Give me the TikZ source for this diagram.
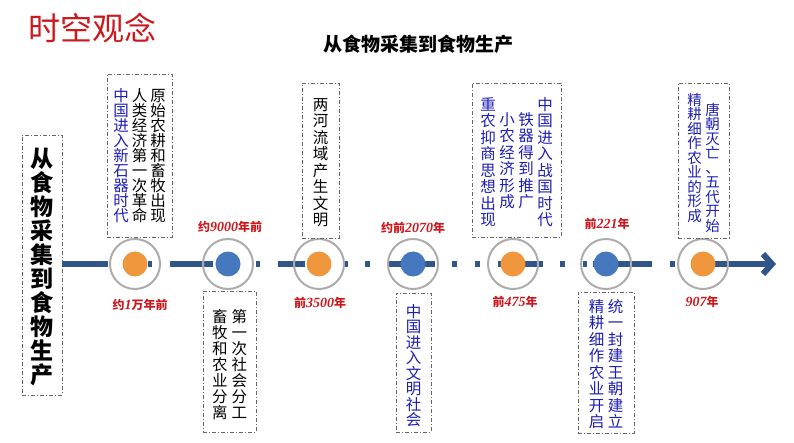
\documentclass[tikz,border=0pt]{standalone}
\usepackage{fontspec}
\setmainfont{Noto Sans CJK SC}
\newfontfamily\numf{Liberation Serif}
\usetikzlibrary{arrows.meta}
\definecolor{cblue}{RGB}{30,30,180}
\definecolor{cred}{RGB}{205,25,30}
\definecolor{bar}{RGB}{50,85,135}
\definecolor{dorange}{RGB}{240,150,60}
\definecolor{dblue}{RGB}{70,120,190}
\makeatletter
\newcommand\vcol[2][15pt]{\vtop{\baselineskip=#1\relax\lineskiplimit=-20pt\@tfor\ch:=#2\do{\hbox to \dimexpr#1+1.5pt\relax{\hss\ch\hss}}}}
\makeatother
\newcommand\yr[1]{{\numf\itshape\fontsize{14pt}{14pt}\selectfont #1}}
\tikzset{
 dbox/.style={draw=gray!80!black, line width=0.7pt, dash pattern=on 4pt off 2pt on 1pt off 2pt, anchor=north west, inner sep=0pt},
 txt/.style={anchor=north, inner sep=0pt, font=\fontsize{15.5pt}{16pt}\selectfont},
 seg/.style={bar, line width=6pt},
 ring/.style={circle, draw=gray!65, line width=2pt, minimum size=50pt, inner sep=0pt},
 dot/.style={circle, minimum size=25pt, inner sep=0pt},
 lab/.style={text=cred, font=\bfseries\fontsize{12pt}{14pt}\selectfont, inner sep=0pt}
}
\begin{document}
\begin{tikzpicture}[x=1pt,y=-1pt]
\useasboundingbox (0,0) rectangle (794,443);
\node[anchor=west, text=cred, font=\fontsize{32pt}{34pt}\selectfont, inner sep=0] (title) at (28,28) {时空观念};
\node[font=\bfseries\fontsize{19pt}{22pt}\selectfont, inner sep=0] (sub) at (418,44) {从食物采集到食物生产};
\node[dbox, minimum width=40pt, minimum height=260pt] (lb) at (22,135) {};
\node[txt, font=\bfseries\fontsize{23pt}{24pt}\selectfont] (lt) at (42,148) {\vcol[24pt]{从食物采集到食物生产}};
\foreach \a/\b in {62/108,148/152,170/213,256/260,278/305,343/348,365/370,388/435,452/457,475/480,498/543,560/565,583/587,593/652,670/675}
  \draw[seg] (\a,264) -- (\b,264);
\coordinate (as) at (700,264);
\coordinate (ae) at (776,264);
\draw[seg, -{Straight Barb[length=9pt,width=20pt]}] (as) -- (ae);
\foreach \n/\x/\c in {1/135/dorange,2/228/dblue,3/319/dorange,4/413/dblue,5/513/dorange,6/606/dblue,7/703/dorange}{
  \node[ring] (r\n) at (\x,264) {};
  \node[dot, fill=\c] (d\n) at (\x,264) {};
}
\node[lab] (l1) at (140,305) {约\yr{1}万年前};
\node[lab] (l2) at (230,227) {约\yr{9000}年前};
\node[lab] (l3) at (320,303) {前\yr{3500}年};
\node[lab] (l4) at (413,228) {约前\yr{2070}年};
\node[lab] (l5) at (515,302) {前\yr{475}年};
\node[lab] (l6) at (607,224) {前\yr{221}年};
\node[lab] (l7) at (702,302) {\yr{907}年};
\node[dbox, minimum width=65pt, minimum height=163pt] (b1) at (107,74) {};
\node[txt] (t1) at (139.5,88) {\hbox{\color{cblue}\vcol{中国进入新石器时代}\kern2pt\color{black}\vcol{人类经济第一次革命}\kern2pt\vcol{原始农耕和畜牧出现}}};
\node[dbox, minimum width=53pt, minimum height=141pt] (b2) at (203,291) {};
\node[txt] (t2) at (229.5,309) {\hbox{\vcol[16pt]{畜牧和农业分离}\kern2pt\vcol[16pt]{第一次社会分工}}};
\node[dbox, minimum width=37pt, minimum height=155pt] (b3) at (302,83) {};
\node[txt] (t3) at (320.5,98) {\vcol[16.5pt]{两河流域产生文明}};
\node[dbox, minimum width=35pt, minimum height=139pt] (b4) at (396,293) {};
\node[txt, text=cblue] (t4) at (413.5,304) {\vcol[15.5pt]{中国进入文明社会}};
\node[dbox, minimum width=89pt, minimum height=154pt] (b5) at (472,83) {};
\node[txt, text=cblue] (t5) at (516.5,97) {\hbox{\vcol[16.5pt]{重农抑商思想出现}\kern1pt\raise-15pt\hbox{\vcol[16.5pt]{小农经济形成}}\kern1pt\raise-15pt\hbox{\vcol[16.5pt]{铁器得到推广}}\kern1pt\vcol[16.5pt]{中国进入战国时代}}};
\node[dbox, minimum width=56pt, minimum height=141pt] (b6) at (578,292) {};
\node[txt, text=cblue] (t6) at (606,299) {\hbox{\vcol[16.5pt]{精耕细作农业开启}\kern1pt\vcol[16.5pt]{统一封建王朝建立}}};
\node[dbox, minimum width=51pt, minimum height=155pt] (b7) at (678,83) {};
\node[txt, text=cblue, font=\fontsize{14.5pt}{15pt}\selectfont] (t7) at (703.5,93) {\hbox{\vcol[14.5pt]{精耕细作农业的形成}\kern2pt\raise-10pt\hbox{\vcol[14.5pt]{唐朝灭亡、五代开始}}}};
\end{tikzpicture}
\end{document}
